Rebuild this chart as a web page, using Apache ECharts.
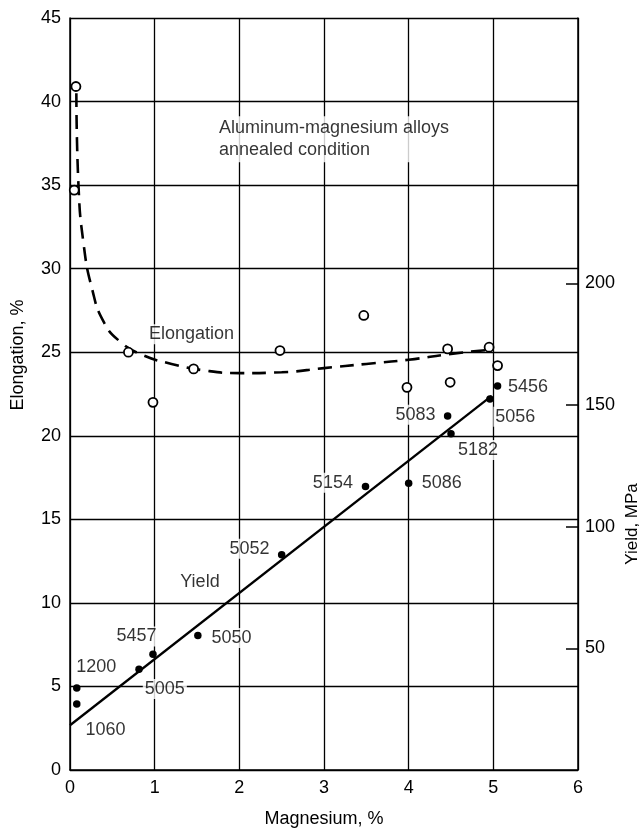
<!DOCTYPE html>
<html><head><meta charset="utf-8">
<script src="https://cdn.jsdelivr.net/npm/echarts@6/dist/echarts.min.js"></script>
<style>html,body{margin:0;padding:0;background:#fff}#c{width:644px;height:833px}</style>
</head><body><div id="c"></div>
<script>
// ---- data ----
const elongationPoints = [
  [0.07,40.9],[0.05,34.7],[0.69,25.0],[0.98,22.0],[1.46,24.0],[2.48,25.1],
  [3.47,27.2],[3.98,22.9],[4.46,25.2],[4.49,23.2],[4.95,25.3],[5.05,24.2]
];
const elongationCurve = [
  [0.075,40.5],[0.1,35.0],[0.16,31.5],[0.26,28.8],[0.4,26.8],[0.6,25.6],
  [0.85,24.85],[1.2,24.3],[1.6,23.9],[2.0,23.75],[2.5,23.8],[3.0,24.05],
  [3.5,24.3],[4.0,24.55],[4.5,24.9],[4.97,25.15]
];
const alloys   = ['1200','1060','5005','5457','5050','5052','5154','5086','5083','5182','5056','5456'];
const yieldMg  = [0.08, 0.08, 0.815, 0.98, 1.51, 2.50, 3.49, 4.00, 4.46, 4.50, 4.96, 5.05];
const yieldMPa = [33.7, 27.1, 41.4, 47.6, 55.3, 88.4, 116.5, 117.8, 145.5, 138.2, 152.4, 157.8];
const yieldFit = [[0,18.4],[4.98,153.7]];
// label anchors in data units (Mg %, Elongation %)
const alloyLabelAnchors = [
  [0.31,6.18],[0.42,2.38],[1.12,4.84],[0.785,7.99],[1.907,7.9],[2.12,13.24],
  [3.105,17.19],[4.39,17.19],[4.08,21.26],[4.82,19.15],[5.26,21.14],[5.41,22.92]
];
const noteText = 'Aluminum-magnesium alloys\nannealed condition';
const noteAnchor = [1.735,37.75];
const curveLabels = [[1.435,26.07,'Elongation'],[1.535,11.22,'Yield']];
const xTicks = [0,1,2,3,4,5,6];
const leftTicks = [0,5,10,15,20,25,30,35,40,45];
const rightTicks = [50,100,150,200];
const xName = 'Magnesium, %';
const leftName = 'Elongation, %';
const rightName = 'Yield, MPa';

// ---- chart ----
const FONT = 'Liberation Sans';
const INK = '#000';
const TXT = '#000';
const chart = echarts.init(document.getElementById('c'), null, {renderer:'canvas'});

const annData = alloys.map((a,i)=>({value:[alloyLabelAnchors[i][0],alloyLabelAnchors[i][1],a]}))
  .concat(curveLabels.map(c=>({value:[c[0],c[1],c[2]]})))
  .concat([{value:[noteAnchor[0],noteAnchor[1],noteText],label:{align:'left',lineHeight:22}}]);

chart.setOption({
  animation:false,
  backgroundColor:'#fff',
  textStyle:{fontFamily:FONT},
  grid:{left:70,right:66,top:18,bottom:58,containLabel:false},
  xAxis:{
    type:'value',min:xTicks[0],max:xTicks[xTicks.length-1],interval:1,
    name:xName,nameLocation:'middle',nameGap:40,
    nameTextStyle:{fontSize:18,color:TXT,fontFamily:FONT},
    axisLine:{show:true,lineStyle:{color:INK,width:1.5}},
    axisTick:{show:false},
    axisLabel:{fontSize:18,color:TXT,margin:9,fontFamily:FONT},
    splitLine:{show:true,lineStyle:{color:INK,width:1.3}}
  },
  yAxis:[{
    type:'value',min:leftTicks[0],max:leftTicks[leftTicks.length-1],interval:5,
    axisLine:{show:true,lineStyle:{color:INK,width:1.5}},
    axisTick:{show:false},
    axisLabel:{fontSize:18,color:TXT,margin:9,fontFamily:FONT},
    splitLine:{show:true,lineStyle:{color:INK,width:1.3}}
  },{
    type:'value',position:'right',min:0,max:309,interval:50,
    axisLine:{show:true,onZero:false,lineStyle:{color:INK,width:1.5}},
    axisTick:{show:true,inside:true,length:12,customValues:rightTicks,lineStyle:{color:INK,width:1.5}},
    axisLabel:{fontSize:18,color:TXT,margin:7,fontFamily:FONT,customValues:rightTicks,
      formatter:v=>rightTicks.indexOf(v)>=0?String(v):''},
    splitLine:{show:false}
  }],
  graphic:[
    {type:'text',x:18,y:355,rotation:Math.PI/2,style:{text:leftName,font:'18px '+FONT,fill:TXT,align:'center',verticalAlign:'middle'}},
    {type:'text',x:632,y:524,rotation:Math.PI/2,style:{text:rightName,font:'17px '+FONT,fill:TXT,align:'center',verticalAlign:'middle'}}
  ],
  series:[
    {type:'line',name:'elongCurve',data:elongationCurve,smooth:0.5,showSymbol:false,
     lineStyle:{color:INK,width:2.6,type:[14,8]},z:3},
    {type:'line',name:'yieldFit',yAxisIndex:1,data:yieldFit,showSymbol:false,
     lineStyle:{color:INK,width:2.3},z:3},
    {type:'scatter',name:'elong',data:elongationPoints,symbol:'circle',symbolSize:9,
     itemStyle:{color:'#fff',borderColor:INK,borderWidth:1.8,opacity:1},z:5},
    {type:'scatter',name:'yield',yAxisIndex:1,data:yieldMg.map((x,i)=>[x,yieldMPa[i]]),
     symbol:'circle',symbolSize:7.5,itemStyle:{color:INK,opacity:1},z:5},
    {type:'scatter',name:'labels',data:annData,symbolSize:0,silent:true,z:4,
     label:{show:true,position:'inside',formatter:p=>p.value[2],fontSize:18,color:TXT,fontFamily:FONT,
       backgroundColor:'#fff',padding:[1,2],align:'center',verticalAlign:'middle'}}
  ]
});
</script></body></html>
